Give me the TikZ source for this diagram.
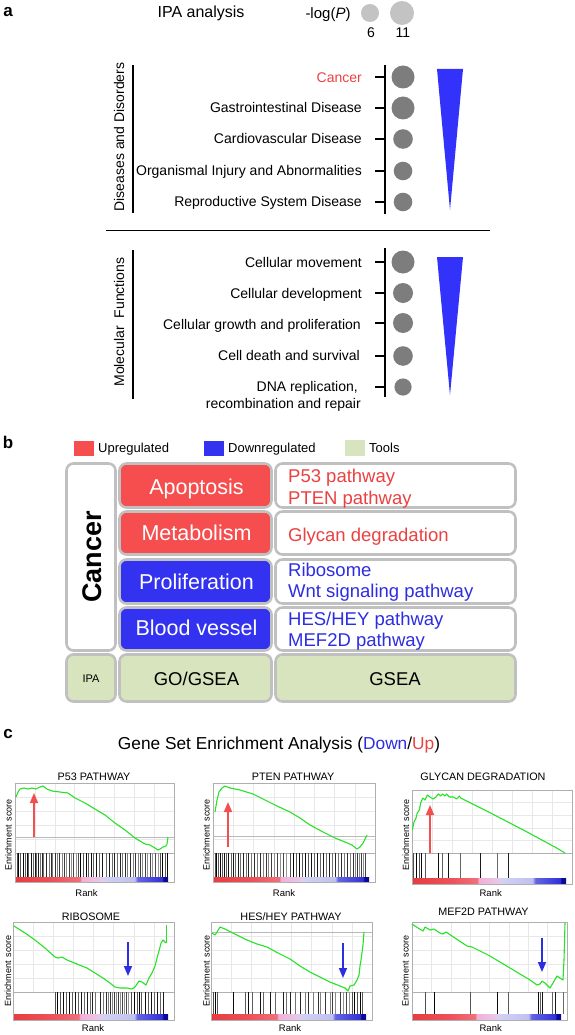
\documentclass[tikz,border=0pt]{standalone}
\usepackage{fontspec}
\setmainfont{Liberation Sans}
\usetikzlibrary{arrows.meta}
\definecolor{dotgray}{RGB}{125,125,125}
\definecolor{leggray}{RGB}{195,195,195}
\definecolor{tri}{RGB}{50,50,250}
\definecolor{upred}{RGB}{246,78,78}
\definecolor{dnblue}{RGB}{50,50,240}
\definecolor{txtred}{RGB}{235,65,65}
\definecolor{txtblue}{RGB}{45,45,225}
\definecolor{toolgreen}{RGB}{215,228,190}
\definecolor{cellborder}{RGB}{192,192,192}
\definecolor{esgreen}{RGB}{40,225,40}
\definecolor{gridc}{RGB}{232,232,232}
\definecolor{framec}{RGB}{175,175,175}
\definecolor{zeroc}{RGB}{185,185,185}
\definecolor{arrred}{RGB}{242,80,80}
\definecolor{arrblue}{RGB}{45,45,225}
\definecolor{rbA}{RGB}{232,60,66}
\definecolor{rbB}{RGB}{236,82,90}
\definecolor{rbC}{RGB}{240,112,122}
\definecolor{rbD}{RGB}{242,176,214}
\definecolor{rbE}{RGB}{232,200,234}
\definecolor{rbF}{RGB}{210,210,245}
\definecolor{rbG}{RGB}{192,192,240}
\definecolor{rbH}{RGB}{100,100,228}
\definecolor{rbJ}{RGB}{50,50,214}
\definecolor{rbI}{RGB}{10,10,150}
\pgfdeclarehorizontalshading{rankbar}{100bp}{color(0bp)=(rbA); color(25bp)=(rbA); color(37.5bp)=(rbB); color(46bp)=(rbC); color(46.5bp)=(rbD); color(53bp)=(rbE); color(54bp)=(rbF); color(64bp)=(rbG); color(65bp)=(rbH); color(73bp)=(rbJ); color(73.5bp)=(rbI); color(100bp)=(rbI)}
\newcommand{\myfs}[1]{\fontsize{#1}{#1}\selectfont}
\newcommand{\esframe}[6]{%
  \foreach \gx in {1,...,7} {\draw[gridl] ({#1+(#2-#1)*\gx/8},#3) -- ({#1+(#2-#1)*\gx/8},#4);}
  \foreach \gy in {1,...,4} {\draw[gridl] (#1,{#3+(#4-#3)*\gy/5}) -- (#2,{#3+(#4-#3)*\gy/5});}
  \shade[shading=rankbar] ({#1+1},#5) rectangle ({#2-6},#6);
  \draw[frm] (#1,#3) rectangle (#2,#6);
  \draw[frm] (#1,#4) -- (#2,#4);
}
\newcommand{\mybarcode}[3]{%
  \foreach \x [count=\i] in {#3} {\pgfmathtruncatemacro\gg{40+mod(\i*29,60)}\draw[bc, black!\gg] (\x,#1) -- (\x,#2);}}
\tikzset{
  lab/.style={font=\myfs{14}, anchor=base east, inner sep=0pt},
  axsty/.style={line width=1.1pt},
  dot/.style={fill=dotgray},
  cell/.style={draw=cellborder, line width=2.6pt, rounded corners=7pt},
  celltxt/.style={font=\myfs{21.5}, text=white, anchor=base, inner sep=0pt},
  pathtxt/.style={font=\myfs{18.5}, anchor=base west, inner sep=0pt},
  tooltxt/.style={font=\myfs{18.5}, anchor=base, inner sep=0pt},
  legtxt/.style={font=\myfs{13}, anchor=base west, inner sep=0pt},
  ptitle/.style={font=\myfs{10.8}, anchor=base, inner sep=0pt},
  ranklbl/.style={font=\myfs{9.5}, anchor=base, inner sep=0pt},
  eslbl/.style={font=\myfs{9}, rotate=90, inner sep=0pt},
  esline/.style={draw=esgreen, line width=1.1pt, line join=round},
  upar/.style={draw=arrred, line width=1.6pt, -{Triangle[width=8pt,length=10pt]}},
  dnar/.style={draw=arrblue, line width=1.6pt, -{Triangle[width=8pt,length=10pt]}},
  bc/.style={line width=0.9pt},
  gridl/.style={draw=gridc, line width=0.4pt},
  frm/.style={draw=framec, line width=0.5pt},
  zl/.style={draw=zeroc, line width=0.6pt},
  panel/.style={font=\bfseries\myfs{17}, inner sep=0pt}
}
\begin{document}
\begin{tikzpicture}[x=1pt,y=-1pt]
\useasboundingbox[fill=white] (0,0) rectangle (574,1035);

% ================= panel a =================
\node[panel] (pa) at (8,12) {a};
\node[font=\myfs{16}] (ipa) at (201,13) {IPA analysis};
\node[font=\myfs{15}] (logp) at (328,15) {-log(\textit{P})};
\fill[leggray] (370,13) circle[radius=9pt];
\fill[leggray] (402,13) circle[radius=12pt];
\node[font=\myfs{14}] (six) at (371,33) {6};
\node[font=\myfs{14}] (eleven) at (403,33) {11};

\draw[axsty] (133,65) -- (133,213);
\draw[axsty] (385,65) -- (385,214);
\node[font=\myfs{14}, rotate=90] (dis) at (119,137) {Diseases and Disorders};
\node[lab, text=txtred] (l1) at (362,82.5) {Cancer};
\node[lab] (l2) at (362,113) {Gastrointestinal Disease};
\node[lab] (l3) at (362,144) {Cardiovascular Disease};
\node[lab] (l4) at (362,175.5) {Organismal Injury and Abnormalities};
\node[lab] (l5) at (362,206) {Reproductive System Disease};
\foreach \yy/\rr in {77/11.5, 108/11.5, 139/9.8, 171/9.3, 202/9.3} {
  \draw[axsty] (375,\yy) -- (385,\yy);
  \fill[dotgray] (403,\yy) circle[radius=\rr pt];
}
\fill[tri] (437,69) -- (463,69) -- (450,210) -- cycle;

\draw[line width=1.1pt] (106,230.5) -- (490,230.5);

\draw[axsty] (133,250) -- (133,399);
\draw[axsty] (385,248) -- (385,397);
\node[font=\myfs{14}, rotate=90] (mol) at (119,322) {Molecular\ \ Functions};
\node[lab] (m1) at (362,267) {Cellular movement};
\node[lab] (m2) at (362,298) {Cellular development};
\node[lab] (m3) at (361,329) {Cellular growth and proliferation};
\node[lab] (m4) at (360,360.5) {Cell death and survival};
\node[lab] (m5) at (358,391.5) {DNA replication,};
\node[lab] (m6) at (361,408) {recombination and repair};
\foreach \yy/\rr in {262/11.5, 293/10, 323/10, 356/9.8, 387/8.6} {
  \draw[axsty] (375,\yy) -- (385,\yy);
  \fill[dotgray] (403,\yy) circle[radius=\rr pt];
}
\fill[tri] (437,257) -- (463,257) -- (450,395) -- cycle;

% ================= panel b =================
\node[panel] (pb) at (8,442) {b};
\fill[upred] (74,441) rectangle (94,456);
\node[legtxt] (lgu) at (98,452.5) {Upregulated};
\fill[dnblue] (204,441) rectangle (224,456);
\node[legtxt] (lgd) at (228,452.5) {Downregulated};
\fill[toolgreen] (345,440) rectangle (365,456);
\node[legtxt] (lgt) at (369,452.5) {Tools};

\draw[cell, fill=white] (66.5,463.5) rectangle (115.5,650.5);
\node[rotate=90, font=\bfseries\myfs{27}] (cancer) at (92,557) {Cancer};

\draw[cell, fill=upred] (119.5,463.5) rectangle (271.5,507.5);
\draw[cell, fill=upred] (119.5,511.5) rectangle (271.5,554.5);
\draw[cell, fill=dnblue] (119.5,559.5) rectangle (271.5,603.5);
\draw[cell, fill=dnblue] (119.5,607.5) rectangle (271.5,650.5);
\node[celltxt] (c1) at (196.5,494) {Apoptosis};
\node[celltxt] (c2) at (196.5,540) {Metabolism};
\node[celltxt] (c3) at (196.5,589) {Proliferation};
\node[celltxt] (c4) at (196.5,635.5) {Blood vessel};

\draw[cell, fill=white] (275.5,463.5) rectangle (515.5,507.5);
\draw[cell, fill=white] (275.5,511.5) rectangle (515.5,554.5);
\draw[cell, fill=white] (275.5,559.5) rectangle (515.5,603.5);
\draw[cell, fill=white] (275.5,607.5) rectangle (515.5,650.5);
\node[pathtxt, text=txtred] (p1) at (288,482.5) {P53 pathway};
\node[pathtxt, text=txtred] (p2) at (288,504) {PTEN pathway};
\node[pathtxt, text=txtred] (p3) at (288,541.5) {Glycan\ degradation};
\node[pathtxt, text=txtblue] (p4) at (288,576.5) {Ribosome};
\node[pathtxt, text=txtblue] (p5) at (288,597.5) {Wnt signaling pathway};
\node[pathtxt, text=txtblue] (p6) at (288,625) {HES/HEY pathway};
\node[pathtxt, text=txtblue] (p7) at (288,646.5) {MEF2D pathway};

\draw[cell, fill=toolgreen] (66.5,654.5) rectangle (115.5,701.5);
\draw[cell, fill=toolgreen] (119.5,654.5) rectangle (271.5,701.5);
\draw[cell, fill=toolgreen] (275.5,654.5) rectangle (515.5,701.5);
\node[font=\myfs{11}] (t1) at (91,678.5) {IPA};
\node[tooltxt] (t2) at (196.5,685) {GO/GSEA};
\node[tooltxt] (t3) at (395,685) {GSEA};

% ================= panel c =================
\node[panel] (pc) at (8,734) {c};
\node[font=\myfs{17.3}, anchor=base, inner sep=0pt] (ttl) at (279,749) {Gene Set Enrichment Analysis (\textcolor{txtblue}{Down}/\textcolor{txtred}{Up})};

% --- plot 1: P53
\esframe{15}{174}{783}{853}{877}{882}
\draw[zl] (15,837) -- (174,837);
\mybarcode{853}{877}{17,18.5,20,23,25,27,28.5,31,33,35,36,38,40,42,43.5,46,49,51,52,55,57,59,62,64,66,69,71,73,76,78,80,83,86,88,91,93,96,99,102,106,109,112,114,117,120,122,125,127,130,133,135,138,140,142,145,147,150,152,155,158,160,162,165,167}
\draw[esline] (16,797) -- (18,792) -- (20,789) -- (24,788) -- (28,789) -- (32,788) -- (36,789) -- (40,787) -- (43,786) -- (47,789) -- (52,791) -- (60,792) -- (68,793) -- (75,798) -- (85,803) -- (95,809) -- (105,815) -- (115,823) -- (125,830) -- (135,838) -- (145,844) -- (150,845) -- (155,848) -- (158,850) -- (160,849) -- (163,847) -- (166,846) -- (167,844) -- (168,837);
\draw[upar] (34,837) -- (34,793);
\node[ptitle] (tt1) at (94,780) {P53 PATHWAY};
\node[ranklbl] (r1) at (86.5,896) {Rank};
\node[eslbl] (e1) at (8.5,835) {Enrichment\hspace{4pt}score};

% --- plot 2: PTEN
\esframe{213}{375}{783}{853}{877}{882}
\draw[zl] (213,836) -- (375,836);
\mybarcode{853}{877}{215,216.5,218,220,222,224,226,228,231,233,235,238,240,243,246,248,251,254,257,260,263,266,268,271,274,277,280,283,286,290,293,296,299,302,305,308,311,314,317,320,323,326,329,332,335,338,341,344,347,350,353,355,357,359,361,363,365}
\draw[esline] (215,812) -- (217,800) -- (219,792) -- (222,788) -- (225,786) -- (230,788) -- (240,790) -- (253,794) -- (265,800) -- (277,806) -- (290,812) -- (300,818) -- (310,825) -- (323,832) -- (335,838) -- (345,842) -- (352,845) -- (357,849) -- (360,847) -- (363,843) -- (365,839) -- (367,835);
\draw[upar] (228,847) -- (228,802);
\node[ptitle] (tt2) at (293,780) {PTEN PATHWAY};
\node[ranklbl] (r2) at (284,896) {Rank};
\node[eslbl] (e2) at (206.5,835) {Enrichment\hspace{4pt}score};

% --- plot 3: Glycan
\esframe{412}{572}{790}{853}{878}{884}
\mybarcode{853}{878}{413,416,419,421,425,438,442,448,460,480,497,508}
\draw[esline] (412.3,830) -- (414,822) -- (416,818) -- (417.3,813) -- (419.3,810) -- (420.7,803) -- (422.7,798) -- (425,800) -- (427.3,795) -- (430,797) -- (433,799) -- (436,797) -- (438.3,794) -- (440.7,796) -- (442.7,794) -- (445,796) -- (446.7,794) -- (449.3,797) -- (453.3,797) -- (456.7,799) -- (459.3,796) -- (460.7,798) -- (490,812.7) -- (523.3,830) -- (556.7,848) -- (565,853);
\draw[upar] (430,853) -- (430,805);
\node[ptitle] (tt3) at (483,780) {GLYCAN DEGRADATION};
\node[ranklbl] (r3) at (490.7,896) {Rank};
\node[eslbl] (e3) at (406,835) {Enrichment\hspace{4pt}score};

% --- plot 4: Ribosome
\esframe{13}{174}{922}{992}{1014}{1020}
\mybarcode{992}{1014}{55,57,60,63,66,69,72,75,78,81,84,87,90,92,95,100,103,106,108,110,112,114,116,118,120,122,124,126,128,131,134,137,139,141,145,148,151,154,157,160,163}
\draw[esline, line width=0.5pt] (166,943) -- (166,925);
\draw[esline] (14,926) -- (25,933) -- (35,940) -- (45,948) -- (55,957) -- (58,958) -- (62,957) -- (67,960) -- (77,964) -- (87,968) -- (95,973) -- (103,978) -- (110,983) -- (115,987) -- (120,988) -- (127,988) -- (132,989) -- (135,987) -- (139,981) -- (142,982) -- (146,985) -- (149,978) -- (152,973) -- (155,966) -- (157,958) -- (159,951) -- (161,943) -- (163,940) -- (166,943);
\draw[dnar] (128,942) -- (128,976);
\node[ptitle] (tt4) at (91,920) {RIBOSOME};
\node[ranklbl] (r4) at (93,1031.5) {Rank};
\node[eslbl] (e4) at (8,971) {Enrichment\hspace{4pt}score};

% --- plot 5: HES/HEY
\esframe{211}{372}{922}{992}{1014}{1020}
\draw[zl] (211,932) -- (372,932);
\mybarcode{992}{1014}{213,215,217,233,245,248,252,260,263,270,275,283,286,290,295,300,305,308,313,318,320,325,330,332,335,340,343,346,349,352,354,357,360,362}
\draw[esline] (212,933) -- (215,935) -- (217,932) -- (220,927) -- (225,929) -- (233,933) -- (247,940) -- (257,944) -- (267,947) -- (278,953) -- (290,959) -- (300,966) -- (310,972) -- (320,977) -- (330,982) -- (340,986) -- (345,988) -- (348,991) -- (350,986) -- (354,985) -- (357,980) -- (359,975) -- (360,966) -- (361,960) -- (363,945) -- (364,932);
\draw[dnar] (343,943) -- (343,978);
\node[ptitle] (tt5) at (291,920) {HES/HEY PATHWAY};
\node[ranklbl] (r5) at (290,1031.5) {Rank};
\node[eslbl] (e5) at (206.5,971) {Enrichment\hspace{4pt}score};

% --- plot 6: MEF2D
\esframe{412}{567}{922}{992}{1014}{1020}
\mybarcode{992}{1014}{425,434,470,497,508,538,540,542,552,555,563}
\draw[esline] (412,924) -- (418,928) -- (423,931) -- (425,927) -- (430,930) -- (434,929) -- (440,933) -- (443,934) -- (446,932) -- (455,938) -- (467,946) -- (472,947) -- (480,951) -- (490,956) -- (500,962) -- (510,968) -- (520,974) -- (530,980) -- (537,985) -- (540,984) -- (542,981) -- (545,983) -- (548,986) -- (550,988) -- (553,983) -- (557,976) -- (560,978) -- (563,980) -- (564,960) -- (565,923);
\draw[dnar] (542,938) -- (542,972);
\node[ptitle] (tt6) at (483.5,915) {MEF2D PATHWAY};
\node[ranklbl] (r6) at (490.7,1031.5) {Rank};
\node[eslbl] (e6) at (405.5,971) {Enrichment\hspace{4pt}score};
\end{tikzpicture}
\end{document}
